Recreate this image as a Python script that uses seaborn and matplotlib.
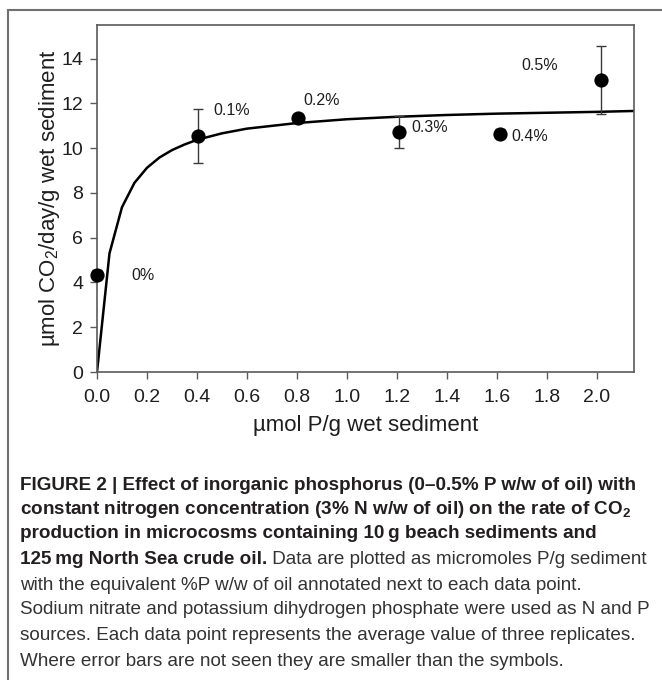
#!/usr/bin/env python3
"""Figure 2: CO2 production rate vs. added inorganic phosphorus."""

import matplotlib as mpl
import matplotlib.pyplot as plt
import numpy as np
import pandas as pd
import seaborn as sns
from matplotlib.patches import Rectangle

# measured points (umol P/g wet sediment vs umol CO2/day/g wet sediment)
P_UMOL = [0.0, 0.403, 0.806, 1.209, 1.613, 2.016]
CO2_RATE = [4.35, 10.55, 11.34, 10.72, 10.64, 13.04]
CO2_ERR = [0.2, 1.2, 0.2, 0.7, 0.2, 1.5]
PCT_LABELS = ["0%", "0.1%", "0.2%", "0.3%", "0.4%", "0.5%"]

# fitted saturation curve
FIT_X = [0.0, 0.05, 0.1, 0.15, 0.2, 0.25, 0.3, 0.35, 0.4, 0.5, 0.6, 0.8,
         1.0, 1.2, 1.4, 1.6, 1.8, 2.0, 2.15]
FIT_Y = [0.0, 5.3, 7.36, 8.45, 9.12, 9.58, 9.91, 10.16, 10.37, 10.66, 10.87, 11.12,
         11.29, 11.40, 11.48, 11.54, 11.58, 11.62, 11.66]

# label offsets next to each point (data units)
LABEL_DX = [0.136, 0.062, 0.02, 0.05, 0.045, -0.316]
LABEL_DY = [-0.05, 1.15, 0.79, 0.18, -0.14, 0.66]

CAPTION_BOLD = [
    "FIGURE 2 | Effect of inorganic phosphorus (0\u20130.5% P w/w of oil) with",
    r"constant nitrogen concentration (3% N w/w of oil) on the rate of CO$_{\mathbf{2}}$",
    "production in microcosms containing 10\u2009g beach sediments and",
    "125\u2009mg North Sea crude oil.",
]
CAPTION_PLAIN = [
    " Data are plotted as micromoles P/g sediment",
    "with the equivalent %P w/w of oil annotated next to each data point.",
    "Sodium nitrate and potassium dihydrogen phosphate were used as N and P",
    "sources. Each data point represents the average value of three replicates.",
    "Where error bars are not seen they are smaller than the symbols.",
]

sns.set_style("white")
mpl.rcParams.update({
    "font.family": ["Liberation Sans", "DejaVu Sans"],
    "mathtext.fontset": "custom",
    "mathtext.rm": "Liberation Sans",
    "mathtext.it": "Liberation Sans:italic",
    "mathtext.bf": "Liberation Sans:bold",
})

TXT = "#1e1e1e"
SPINE = "#5a5a5a"

fig = plt.figure(figsize=(6.62, 6.80), dpi=100)
ax = fig.add_axes([97 / 662, 1 - 372 / 680, (634 - 97) / 662, (372 - 25) / 680])

pts = pd.DataFrame({"p": P_UMOL, "rate": CO2_RATE, "err": CO2_ERR, "lab": PCT_LABELS})
fit = pd.DataFrame({"p": FIT_X, "rate": FIT_Y})

sns.lineplot(data=fit, x="p", y="rate", ax=ax, color="black", linewidth=1.8,
             sort=False, zorder=2)
ax.errorbar(pts["p"], pts["rate"], yerr=pts["err"], fmt="none", ecolor="#3a3a3a",
            elinewidth=1.0, capsize=3.5, capthick=1.0, zorder=3, clip_on=False)
sns.scatterplot(data=pts, x="p", y="rate", ax=ax, color="black", s=105,
                edgecolor="black", linewidth=0, zorder=4, clip_on=False)

for (_, r), dx, dy in zip(pts.iterrows(), LABEL_DX, LABEL_DY):
    ax.text(r["p"] + dx, r["rate"] + dy, r["lab"], fontsize=11.5, color=TXT,
            ha="left", va="center")

ax.set_xlim(0, 2.15)
ax.set_ylim(0, 15.5)
ax.set_xticks(np.arange(0, 2.01, 0.2))
ax.set_xticklabels([f"{v:.1f}" for v in np.arange(0, 2.01, 0.2)])
ax.set_yticks(range(0, 15, 2))
ax.tick_params(axis="both", direction="out", length=5, width=1, color=SPINE,
               labelsize=14, labelcolor=TXT, bottom=True, left=True)
ax.tick_params(axis="x", pad=7.5)
ax.tick_params(axis="y", pad=5)
for sp in ax.spines.values():
    sp.set_color(SPINE)
    sp.set_linewidth(1.2)

ax.set_xlabel("\u00b5mol P/g wet sediment", fontsize=16, color=TXT, va="center")
ax.set_ylabel("\u00b5mol CO$_2$/day/g wet sediment", fontsize=16, color=TXT,
              va="center")
ax.xaxis.set_label_coords(0.5, -(425 - 372) / 347)
ax.yaxis.set_label_coords((49 - 97) / 537, 0.5)

# outer panel frame (cut by the image edge on the right and bottom)
fig.patches.append(Rectangle((8 / 662, -0.1), 1.2, 1 - 10 / 680 + 0.1,
                             transform=fig.transFigure, fill=False,
                             edgecolor="#707070", linewidth=1.5))

# caption
cap_font = ["Liberation Sans", "DejaVu Sans"]
CAP_SIZE = 13.55
x0 = 20 / 662
line_y = [485, 509, 534, 560, 585, 610, 636, 661]
for i, s in enumerate(CAPTION_BOLD):
    fig.text(x0, 1 - line_y[i] / 680, s, family=cap_font, fontweight="bold",
             fontsize=CAP_SIZE, color="#231f20", va="center", ha="left")

fig.canvas.draw()
renderer = fig.canvas.get_renderer()
last_bold = fig.texts[len(CAPTION_BOLD) - 1]
bb = last_bold.get_window_extent(renderer).transformed(fig.transFigure.inverted())
fig.text(bb.x1, 1 - line_y[3] / 680, CAPTION_PLAIN[0], family=cap_font,
         fontsize=CAP_SIZE, color="#333333", va="center", ha="left")
for i, s in enumerate(CAPTION_PLAIN[1:]):
    fig.text(x0, 1 - line_y[4 + i] / 680, s, family=cap_font, fontsize=CAP_SIZE,
             color="#333333", va="center", ha="left")

fig.savefig("out.png", dpi=100)
